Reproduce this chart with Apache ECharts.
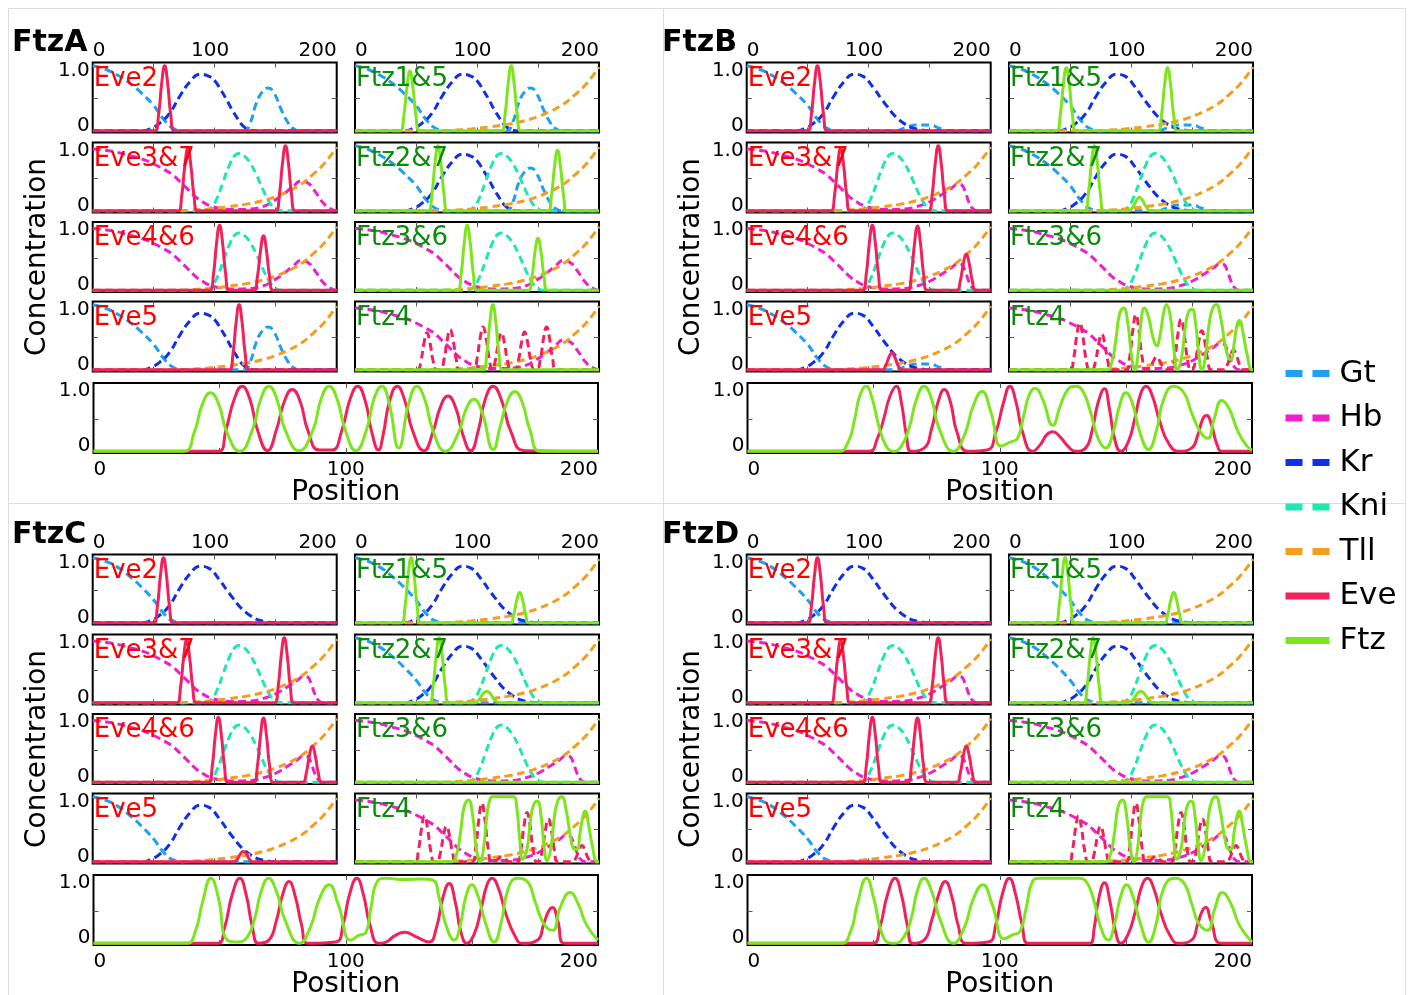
<!DOCTYPE html>
<html>
<head>
<meta charset="utf-8">
<title>Eve and Ftz stripe enhancers</title>
<script src="https://cdn.jsdelivr.net/npm/echarts@6/dist/echarts.min.js"></script>
<style>
html, body { margin: 0; padding: 0; background: #fff; }
#chart { width: 1413px; height: 995px; }
</style>
</head>
<body>
<div id="chart"></div>
<script>
// ---------- axis ticks and labels ----------
const positionTicks = [50, 100, 150];
const positionLabels = [0, 100, 200];
const concTicks = [0.5];
const concLabels = [0, 1];

// ---------- gap gene inputs: [position, concentration] ----------
const gtFull = [[0,1.0],[10,0.95],[20,0.86],[30,0.74],[40,0.58],[50,0.39],[58,0.18],[66,0.04],[75,0],[124,0],[129,0.12],[134,0.42],[139,0.6],[144,0.66],[149,0.57],[154,0.35],[159,0.16],[164,0.04],[170,0],[200,0]];
const gtWeak = [[0,1.0],[10,0.95],[20,0.86],[30,0.74],[40,0.58],[50,0.39],[58,0.18],[66,0.04],[75,0],[122,0],[130,0.05],[140,0.09],[150,0.09],[158,0.04],[166,0],[200,0]];
const gtAnterior = [[0,1.0],[10,0.95],[20,0.86],[30,0.72],[40,0.55],[50,0.35],[58,0.15],[66,0.03],[74,0],[200,0]];
const krNarrow = [[0,0],[40,0],[48,0.04],[55,0.12],[63,0.27],[71,0.52],[80,0.76],[88,0.87],[95,0.84],[100,0.77],[105,0.63],[110,0.47],[114,0.33],[118,0.21],[122,0.1],[127,0.03],[135,0],[200,0]];
const krWide = [[0,0],[40,0],[48,0.04],[55,0.12],[63,0.27],[71,0.52],[80,0.76],[88,0.87],[95,0.84],[104,0.66],[110,0.5],[115,0.38],[120,0.26],[125,0.17],[130,0.1],[135,0.05],[142,0.02],[150,0],[200,0]];
const hbRound = [[0,0.95],[10,0.93],[20,0.9],[30,0.85],[40,0.8],[50,0.72],[58,0.64],[65,0.56],[72,0.44],[78,0.33],[84,0.22],[90,0.14],[96,0.08],[104,0.04],[115,0.02],[130,0.03],[140,0.07],[148,0.15],[156,0.25],[164,0.37],[171,0.46],[177,0.42],[183,0.28],[189,0.12],[195,0.03],[200,0]];
const hbSharp = [[0,0.95],[10,0.93],[20,0.9],[30,0.85],[40,0.8],[50,0.72],[58,0.64],[65,0.56],[72,0.44],[78,0.33],[84,0.22],[90,0.14],[96,0.08],[104,0.04],[115,0.02],[130,0.03],[140,0.07],[150,0.14],[160,0.25],[168,0.35],[173,0.41],[176,0.4],[179,0.3],[182,0.14],[185,0.04],[189,0],[200,0]];
const kni = [[0,0],[92,0],[97,0.05],[102,0.2],[107,0.45],[112,0.7],[117,0.86],[120,0.88],[124,0.85],[129,0.74],[134,0.56],[139,0.35],[144,0.16],[149,0.04],[155,0],[200,0]];
const tll = [[0,0],[70,0],[80,0.01],[95,0.03],[110,0.06],[125,0.1],[140,0.16],[150,0.22],[160,0.3],[170,0.4],[180,0.55],[190,0.73],[200,0.98]];

// ---------- FtzA enhancer outputs ----------
const aEve2 = [[0,0],[51,0],[54,0.25],[56.5,0.72],[59,1],[61.5,0.72],[64,0.25],[67,0],[200,0]];
const aEve37 = [[0,0],[70,0],[73,0.24],[75.5,0.69],[78,0.96],[80.5,0.69],[83,0.24],[86,0],[150,0],[153,0.25],[155.5,0.72],[158,1],[160.5,0.72],[163,0.25],[166,0],[200,0]];
const aEve46 = [[0,0],[96,0],[99,0.25],[101.5,0.72],[104,1],[106.5,0.72],[109,0.25],[112,0],[132,0],[135,0.21],[137.5,0.6],[140,0.84],[142.5,0.6],[145,0.21],[148,0],[200,0]];
const aEve5 = [[0,0],[112,0],[115,0.25],[117.5,0.72],[120,1],[122.5,0.72],[125,0.25],[128,0],[200,0]];
const aFtz15 = [[0,0],[37,0],[40,0.23],[42.5,0.66],[45,0.92],[47.5,0.66],[50,0.23],[53,0],[120,0],[123,0.25],[125.5,0.72],[128,1],[130.5,0.72],[133,0.25],[136,0],[200,0]];
const aFtz27 = [[0,0],[60,0],[63,0.25],[65.5,0.72],[68,1],[70.5,0.72],[73,0.25],[76,0],[158,0],[161,0.23],[163.5,0.67],[166,0.93],[168.5,0.67],[171,0.23],[174,0],[200,0]];
const aFtz36 = [[0,0],[84,0],[87,0.25],[89.5,0.72],[92,1],[94.5,0.72],[97,0.25],[100,0],[142,0],[145,0.2],[147.5,0.58],[150,0.8],[152.5,0.58],[155,0.2],[158,0],[200,0]];
const aFtz4 = [[0,0],[105,0],[108,0.25],[110.5,0.72],[113,1],[115.5,0.72],[118,0.25],[121,0],[200,0]];
const aEveInput = [[0,0],[51,0],[54,0.14],[56.5,0.41],[59,0.57],[61.5,0.41],[64,0.14],[67,0],[70,0],[73,0.16],[75.5,0.45],[78,0.62],[80.5,0.45],[83,0.16],[86,0],[97,0],[100,0.17],[102.5,0.48],[105,0.66],[107.5,0.48],[110,0.17],[112.5,0],[115,0.14],[117.5,0.41],[120,0.57],[122.5,0.41],[125,0.14],[128,0],[131,0],[134,0.15],[136.5,0.42],[139,0.58],[141.5,0.42],[144,0.15],[147,0],[149,0],[152,0.17],[154.5,0.48],[157,0.66],[159.5,0.48],[162,0.17],[165,0],[200,0]];
const aBandEve = [[0,0],[49.5,0],[52.5,0.33],[55.8,0.8],[58.9,1.0],[62,0.8],[65,0.33],[69,0.01],[72.5,0.33],[75.7,0.77],[78.8,0.95],[81.9,0.77],[85,0.32],[89.5,0.02],[94.5,0.02],[98.5,0.33],[101.7,0.8],[104.7,1.0],[107.7,0.78],[110.3,0.3],[113,0.02],[114.8,0.25],[117.4,0.78],[120.4,1.0],[123.4,0.78],[126.4,0.33],[131,0.01],[134.6,0.3],[137.5,0.68],[140.5,0.85],[143.5,0.68],[146.4,0.26],[149.5,0.01],[152.6,0.33],[155.3,0.8],[158.4,1.0],[161.8,0.78],[165.5,0.3],[171,0.01],[200,0]];
const aBandFtz = [[0,0],[35.5,0],[40,0.3],[43.2,0.73],[46.4,0.9],[49.6,0.73],[53,0.28],[58,0],[63,0.33],[66.3,0.8],[69.5,1.0],[72.7,0.8],[76,0.33],[81.5,0.01],[87,0.33],[90.2,0.8],[93.4,1.0],[96.6,0.8],[99.8,0.33],[104,0.01],[108.2,0.33],[111.3,0.82],[114.3,1.0],[117.2,0.74],[121,0.05],[125,0.74],[128.2,1.0],[131.3,0.8],[134.5,0.33],[139.5,0],[144.6,0.28],[147.7,0.65],[150.8,0.8],[153.8,0.63],[158.5,0.03],[161.2,0.38],[164.1,0.77],[167,0.92],[170,0.75],[173,0.33],[177.5,0],[200,0]];

// ---------- FtzB / FtzC / FtzD enhancer outputs ----------
const eve2Late = [[0,0],[50,0],[53,0.25],[55.5,0.72],[58,1],[60.5,0.72],[63,0.25],[66,0],[200,0]];
const eve37Late = [[0,0],[69,0],[72,0.24],[74.5,0.69],[77,0.96],[79.5,0.69],[82,0.24],[85,0],[149,0],[152,0.25],[154.5,0.72],[157,1],[159.5,0.72],[162,0.25],[165,0],[200,0]];
const eve46Late = [[0,0],[95,0],[98,0.25],[100.5,0.72],[103,1],[105.5,0.72],[108,0.25],[111,0],[132,0],[135,0.25],[137.5,0.71],[140,0.99],[142.5,0.71],[145,0.25],[148,0],[172,0],[175,0.14],[177.5,0.4],[180,0.56],[182.5,0.4],[185,0.14],[188,0],[200,0]];
const bEve5 = [[0,0],[111,0],[114,0.07],[116.5,0.19],[119,0.26],[121.5,0.19],[124,0.07],[127,0],[200,0]];
const cEve5 = [[0,0],[115.5,0],[118.5,0.04],[121,0.12],[123.5,0.16],[126,0.12],[128.5,0.04],[131.5,0],[200,0]];
const flatZero = [[0,0],[200,0]];
const bFtz15 = [[0,0],[39,0],[42,0.24],[44.5,0.7],[47,0.97],[49.5,0.7],[52,0.24],[55,0],[122,0],[125,0.24],[127.5,0.7],[130,0.97],[132.5,0.7],[135,0.24],[138,0],[200,0]];
const bFtz27 = [[0,0],[62,0],[65,0.25],[67.5,0.72],[70,1],[72.5,0.72],[75,0.25],[78,0],[98,0],[101.5,0.06],[104.5,0.16],[107,0.21],[109.5,0.16],[112.5,0.06],[116,0],[200,0]];
const bFtz4 = [[0,0],[80,0],[84,0.1],[87.5,0.45],[90.5,0.85],[94,0.95],[97.5,0.7],[100.5,0.2],[103,0],[105.5,0.2],[108,0.7],[111,0.95],[114.5,0.8],[118,0.5],[121,0.37],[124,0.55],[126.5,0.85],[129,1.0],[132,0.85],[135,0.35],[138,0],[141.5,0.2],[144.5,0.65],[147,0.88],[150,0.93],[153,0.7],[155.5,0.25],[158,0],[161,0.2],[164,0.7],[167,0.95],[170,1.0],[173.5,0.8],[177,0.4],[180,0.18],[182,0.16],[184.5,0.4],[187,0.7],[189,0.76],[191.5,0.6],[195,0.25],[199,0],[200,0]];
const bEveInput = [[0,0],[50,0],[53,0.18],[55.5,0.52],[58,0.72],[60.5,0.52],[63,0.18],[66,0],[68,0],[71,0.14],[73.5,0.4],[76,0.55],[78.5,0.4],[81,0.14],[84,0],[96,0],[99,0.21],[101.5,0.61],[104,0.85],[106.5,0.61],[109,0.21],[112,0],[113,0],[116,0.05],[118.5,0.14],[121,0.2],[123.5,0.14],[126,0.05],[129,0],[133,0],[136,0.2],[138.5,0.56],[141,0.78],[143.5,0.56],[146,0.2],[149,0],[150,0],[153,0.15],[155.5,0.43],[158,0.6],[160.5,0.43],[163,0.15],[166,0],[176,0],[179,0.08],[181.5,0.22],[184,0.3],[186.5,0.22],[189,0.08],[192,0],[200,0]];
const cFtz15 = [[0,0],[38,0],[41,0.25],[43.5,0.72],[46,1],[48.5,0.72],[51,0.25],[54,0],[127,0],[130,0.12],[132.5,0.34],[135,0.47],[137.5,0.34],[140,0.12],[143,0],[200,0]];
const cFtz27 = [[0,0],[61,0],[64,0.25],[66.5,0.72],[69,1],[71.5,0.72],[74,0.25],[77,0],[98,0],[102,0.06],[105,0.14],[108,0.18],[111,0.14],[114.5,0.05],[119,0],[200,0]];
const ftz4Broad = [[0,0],[79,0],[83,0.1],[86.5,0.45],[89.5,0.85],[93,0.95],[96.5,0.7],[99.5,0.2],[102.5,0],[105,0.15],[107.5,0.6],[110,0.92],[113,1.0],[122,1.0],[130,1.0],[132.5,0.85],[135,0.35],[137.5,0.04],[141,0.2],[144,0.65],[146.5,0.88],[149.5,0.93],[152.5,0.7],[155,0.25],[157.5,0.02],[160.5,0.2],[163.5,0.7],[166.5,0.95],[169.5,1.0],[173,0.8],[176.5,0.4],[179.5,0.2],[182,0.19],[184.5,0.45],[187,0.72],[188.8,0.78],[191,0.62],[194.5,0.25],[198.5,0],[200,0]];
const cEveInput = [[0,0],[49,0],[52,0.18],[54.5,0.51],[57,0.71],[59.5,0.51],[62,0.18],[65,0],[67,0],[70,0.14],[72.5,0.4],[75,0.55],[77.5,0.4],[80,0.14],[83,0],[96,0],[99,0.23],[101.5,0.65],[104,0.9],[106.5,0.65],[109,0.23],[112,0],[114,0],[117,0.04],[120,0.08],[123,0.04],[126,0],[133,0],[136,0.19],[138.5,0.55],[141,0.76],[143.5,0.55],[146,0.19],[149,0],[150.5,0],[153.5,0.17],[156,0.48],[158.5,0.66],[161,0.48],[163.5,0.17],[166.5,0],[178,0],[181,0.06],[183.5,0.18],[186,0.25],[188.5,0.18],[191,0.06],[194,0],[200,0]];

const bBandEve = [[0,0],[48,0],[51.5,0.2],[54,0.5],[56.5,0.85],[59,1.0],[61,0.75],[63,0.25],[65,0],[70,0.05],[73,0.35],[75.5,0.75],[78,0.95],[80.5,0.75],[83,0.3],[87.4,0],[95,0.02],[98.5,0.3],[101.5,0.75],[104,1.0],[106.5,0.75],[109,0.3],[113,0],[116,0.1],[118.5,0.25],[121,0.3],[124,0.22],[127,0.08],[130,0],[134,0.05],[136.5,0.3],[139,0.75],[141.5,0.96],[143.5,0.65],[145.5,0.2],[148,0],[151,0.15],[153.5,0.5],[156,0.9],[158,1.0],[160.5,0.85],[163.5,0.45],[167,0.12],[171,0],[176,0.05],[178.5,0.25],[180.5,0.5],[182,0.55],[184,0.4],[186,0.12],[188.3,0],[200,0]];
const bBandFtz = [[0,0],[36,0],[40,0.15],[42.5,0.5],[44.5,0.85],[47,1.0],[49.5,0.8],[52,0.4],[55,0.08],[58,0],[61,0.08],[64,0.35],[67,0.8],[70,1.0],[73,0.8],[76,0.35],[81.6,0],[86,0.25],[89.5,0.7],[93,0.92],[96.5,0.6],[100.6,0.08],[104,0.14],[107,0.2],[109.5,0.55],[111.5,0.85],[114,0.97],[117,0.8],[121,0.4],[124,0.7],[127,0.95],[130,1.0],[133,0.92],[136,0.6],[139,0.2],[142,0.05],[145,0.3],[147.5,0.7],[150,0.9],[152.5,0.75],[155.5,0.3],[159,0.03],[162,0.3],[165,0.8],[169,1.0],[173,0.9],[176,0.6],[179.5,0.3],[182.5,0.2],[185,0.5],[188,0.78],[191,0.65],[194.5,0.3],[198,0.08],[200,0.02]];
const cBandEve = [[0,0],[49,0],[52,0.25],[55,0.75],[58,1.0],[60.5,0.75],[63,0.25],[65.4,0],[69.5,0.05],[72.5,0.35],[75,0.75],[77.5,0.95],[80,0.72],[82.5,0.28],[85,0],[96,0.02],[99,0.3],[101.5,0.75],[104.4,1.0],[107,0.75],[109.5,0.3],[113,0],[116,0.02],[119.5,0.12],[123.5,0.17],[128,0.1],[133,0.02],[136,0.25],[138.5,0.7],[141,0.92],[143.5,0.62],[145.5,0.2],[148,0],[151,0.15],[153.5,0.5],[156,0.9],[158,1.0],[160.5,0.85],[163.5,0.45],[167,0.12],[170,0],[176,0.05],[178.5,0.3],[180.5,0.5],[182,0.55],[184,0.35],[186.8,0],[200,0]];
const cBandFtz = [[0,0],[36.8,0],[40.5,0.2],[43,0.6],[46.6,1.0],[49.5,0.7],[53,0.05],[57,0.02],[61,0.1],[64,0.4],[66.5,0.8],[69.4,1.0],[72.5,0.8],[76,0.35],[81.6,0],[86,0.25],[89.5,0.68],[93.4,0.9],[97,0.6],[102,0.05],[105,0.12],[108,0.17],[110,0.55],[112.5,0.95],[116,1.0],[123,0.98],[130,0.99],[134.6,0.97],[137,0.7],[140,0.25],[143,0.05],[145.5,0.3],[147.5,0.7],[150,0.9],[152.5,0.72],[155.5,0.3],[158.8,0.02],[161.5,0.3],[164.5,0.85],[168,1.0],[172,0.95],[175,0.65],[178.5,0.3],[182,0.2],[185,0.55],[189,0.78],[192,0.62],[195.5,0.28],[200,0.05]];
const dBandEve = [[0,0],[49.4,0],[52.5,0.25],[55.5,0.75],[58.5,1.0],[61,0.75],[63.5,0.25],[65.5,0],[70,0.05],[73,0.35],[75.8,0.75],[78.4,0.95],[81,0.72],[83.5,0.28],[86.7,0],[95.5,0.02],[98.5,0.3],[101,0.75],[103.8,1.0],[106.3,0.75],[108.8,0.3],[111.5,0],[135.7,0],[137.5,0.25],[139.2,0.68],[141.5,0.93],[143.8,0.62],[145.8,0.2],[148,0],[151,0.15],[153.8,0.5],[156.5,0.9],[158.6,1.0],[161,0.85],[164,0.45],[167.5,0.12],[170.8,0],[176,0.05],[178.5,0.3],[180.3,0.5],[181.7,0.55],[183.7,0.35],[188,0],[200,0]];
const dBandFtz = [[0,0],[37,0],[41,0.2],[43.5,0.6],[47.2,1.0],[50,0.7],[54,0.08],[58.2,0],[62,0.1],[65,0.4],[67.3,0.8],[70,1.0],[73,0.8],[76.5,0.35],[81.6,0],[86,0.25],[89.5,0.68],[93.3,0.9],[97,0.6],[101.8,0.07],[105,0.13],[108,0.18],[110.5,0.55],[113,0.95],[116,1.0],[124,1.0],[131,1.0],[134,0.96],[137,0.7],[140,0.25],[143,0.05],[145.5,0.3],[147.8,0.7],[150.3,0.9],[152.8,0.72],[155.8,0.3],[159,0.02],[162,0.3],[165,0.85],[169.3,1.0],[173,0.93],[176,0.62],[179,0.3],[182.5,0.2],[185,0.5],[188.3,0.78],[191.5,0.62],[195,0.28],[200,0.02]];

// ---------- styling and layout ----------
const FONT = 'DejaVu Sans';
const COLORS = { Gt: '#1fa0f0', Hb: '#ee20cc', Kr: '#0f30e8', Kni: '#1ee8b2', Tll: '#f59d1e', Eve: '#f0215b', Ftz: '#7ce51e' };
const LABEL_COLORS = { Eve: '#ff0000', Ftz: '#0b8a0b' };
const DASH = [8, 4.5];

const SUBPLOT_LABELS = ['Eve2', 'Eve3&7', 'Eve4&6', 'Eve5', 'Ftz1&5', 'Ftz2&7', 'Ftz3&6', 'Ftz4'];
const COL_LEFT = [92.7, 355];
const COL_W = 244;
const ROW_TOP = [62.5, 142.5, 222, 301.5];
const ROW_H = 70;
const BAND = { left: 93.5, top: 383, width: 504.5, height: 70 };

const panels = [
  { title: 'FtzA', dx: 0, dy: 0, titleLeft: 12,
    inputs: [
      [['Gt', gtFull], ['Kr', krNarrow]],
      [['Hb', hbRound], ['Kni', kni], ['Tll', tll]],
      [['Hb', hbRound], ['Kni', kni], ['Tll', tll]],
      [['Gt', gtFull], ['Kr', krNarrow], ['Tll', tll]],
      [['Gt', gtFull], ['Kr', krNarrow], ['Tll', tll]],
      [['Gt', gtFull], ['Kr', krNarrow], ['Kni', kni], ['Tll', tll]],
      [['Hb', hbRound], ['Kni', kni], ['Tll', tll]],
      [['Hb', hbRound], ['Tll', tll], ['Eve', aEveInput]]
    ],
    outputs: [aEve2, aEve37, aEve46, aEve5, aFtz15, aFtz27, aFtz36, aFtz4],
    bandEve: aBandEve, bandFtz: aBandFtz },
  { title: 'FtzB', dx: 654, dy: 0, titleLeft: 662,
    inputs: [
      [['Gt', gtWeak], ['Kr', krWide]],
      [['Hb', hbSharp], ['Kni', kni], ['Tll', tll]],
      [['Hb', hbSharp], ['Kni', kni], ['Tll', tll]],
      [['Gt', gtWeak], ['Kr', krWide], ['Tll', tll]],
      [['Gt', gtWeak], ['Kr', krWide], ['Tll', tll]],
      [['Gt', gtWeak], ['Kr', krWide], ['Kni', kni], ['Tll', tll]],
      [['Hb', hbSharp], ['Kni', kni], ['Tll', tll]],
      [['Hb', hbSharp], ['Tll', tll], ['Eve', bEveInput]]
    ],
    outputs: [eve2Late, eve37Late, eve46Late, bEve5, bFtz15, bFtz27, flatZero, bFtz4],
    bandEve: bBandEve, bandFtz: bBandFtz },
  { title: 'FtzC', dx: 0, dy: 492, titleLeft: 12,
    inputs: [
      [['Gt', gtAnterior], ['Kr', krWide]],
      [['Hb', hbSharp], ['Kni', kni], ['Tll', tll]],
      [['Hb', hbSharp], ['Kni', kni], ['Tll', tll]],
      [['Gt', gtAnterior], ['Kr', krWide], ['Tll', tll]],
      [['Gt', gtAnterior], ['Kr', krWide], ['Tll', tll]],
      [['Gt', gtAnterior], ['Kr', krWide], ['Kni', kni], ['Tll', tll]],
      [['Hb', hbSharp], ['Kni', kni], ['Tll', tll]],
      [['Hb', hbSharp], ['Tll', tll], ['Eve', cEveInput]]
    ],
    outputs: [eve2Late, eve37Late, eve46Late, cEve5, cFtz15, cFtz27, flatZero, ftz4Broad],
    bandEve: cBandEve, bandFtz: cBandFtz },
  { title: 'FtzD', dx: 654, dy: 492, titleLeft: 662,
    inputs: [
      [['Gt', gtAnterior], ['Kr', krWide]],
      [['Hb', hbSharp], ['Kni', kni], ['Tll', tll]],
      [['Hb', hbSharp], ['Kni', kni], ['Tll', tll]],
      [['Gt', gtAnterior], ['Kr', krWide], ['Tll', tll]],
      [['Gt', gtAnterior], ['Kr', krWide], ['Tll', tll]],
      [['Gt', gtAnterior], ['Kr', krWide], ['Kni', kni], ['Tll', tll]],
      [['Hb', hbSharp], ['Kni', kni], ['Tll', tll]],
      [['Hb', hbSharp], ['Tll', tll], ['Eve', cEveInput]]
    ],
    outputs: [eve2Late, eve37Late, eve46Late, flatZero, cFtz15, cFtz27, flatZero, ftz4Broad],
    bandEve: dBandEve, bandFtz: dBandFtz }
];

// ---------- option builders ----------
const grids = [], xAxes = [], yAxes = [], series = [], titles = [], graphics = [];
const labelFont = { fontFamily: FONT, fontSize: 20, color: '#000' };
const tickStyle = { show: true, inside: true, length: 5, lineStyle: { color: '#555', width: 1 } };

function positionLabelCfg(margin, nudgeMiddle) {
  const cfg = { show: true, customValues: positionLabels, margin: margin,
    alignMinLabel: 'left', alignMaxLabel: 'right', ...labelFont };
  if (nudgeMiddle) {
    cfg.formatter = v => (v === 100 ? '{mid|100}' : String(v));
    cfg.rich = { mid: { ...labelFont, padding: [0, 9, 0, 0] } };
  }
  return cfg;
}
function concLabelCfg() {
  return { show: true, customValues: concLabels, margin: 3,
    formatter: v => (v >= 1 ? '{hi|1.0}' : '{lo|0}'),
    rich: { hi: { ...labelFont, padding: [10, 0, 0, 0] }, lo: { ...labelFont, padding: [0, 0, 11, 0] } } };
}

function addGrid(rect, opts) {
  const g = grids.length;
  grids.push({ left: rect.left, top: rect.top, width: rect.width, height: rect.height,
    show: true, borderColor: '#000', borderWidth: 2, backgroundColor: 'transparent',
    containLabel: false, outerBoundsMode: 'none' });
  const xBase = { type: 'value', gridIndex: g, min: 0, max: 200,
    axisLine: { show: false, onZero: false }, splitLine: { show: false },
    axisTick: { ...tickStyle, customValues: positionTicks } };
  const bottom = { ...xBase, position: 'bottom',
    axisLabel: opts.bottomLabels ? positionLabelCfg(7, false) : { show: false } };
  if (opts.xName) {
    Object.assign(bottom, { name: opts.xName, nameLocation: 'middle', nameGap: 26, nameMoveOverlap: false,
      nameTextStyle: { fontFamily: FONT, fontSize: 28, color: '#000' } });
  }
  xAxes.push(bottom);
  xAxes.push({ ...xBase, position: 'top',
    axisLabel: opts.topLabels ? positionLabelCfg(2, true) : { show: false } });
  const yBase = { type: 'value', gridIndex: g, min: -0.025, max: 1.05,
    axisLine: { show: false, onZero: false }, splitLine: { show: false },
    axisTick: { ...tickStyle, customValues: concTicks } };
  yAxes.push({ ...yBase, position: 'left', axisLabel: opts.leftLabels ? concLabelCfg() : { show: false } });
  yAxes.push({ ...yBase, position: 'right', axisLabel: { show: false } });
  return g;
}

function addLine(g, name, data, dashed) {
  series.push({ type: 'line', name: name, data: data, xAxisIndex: 2 * g, yAxisIndex: 2 * g,
    symbol: 'none', smooth: 0.5, color: COLORS[name], silent: true, z: dashed ? 2 : 3,
    lineStyle: { color: COLORS[name], width: 3, type: dashed ? DASH : 'solid' },
    emphasis: { disabled: true } });
}

panels.forEach(p => {
  titles.push({ text: p.title, left: p.titleLeft, top: 28 + p.dy, padding: 0,
    textStyle: { fontFamily: FONT, fontSize: 30, fontWeight: 'bold', color: '#000' } });
  SUBPLOT_LABELS.forEach((label, i) => {
    const col = i < 4 ? 0 : 1;
    const row = i % 4;
    const rect = { left: COL_LEFT[col] + p.dx, top: ROW_TOP[row] + p.dy, width: COL_W, height: ROW_H };
    const g = addGrid(rect, { topLabels: row === 0, leftLabels: col === 0 });
    p.inputs[i].forEach(([gene, values]) => addLine(g, gene, values, true));
    const kind = label.slice(0, 3);
    addLine(g, kind, p.outputs[i], false);
    titles.push({ text: label, left: rect.left + 1, top: rect.top + 3.5, padding: 0,
      textStyle: { fontFamily: FONT, fontSize: 26, fontWeight: 'normal', color: LABEL_COLORS[kind] } });
  });
  const band = { left: BAND.left + p.dx, top: BAND.top + p.dy, width: BAND.width, height: BAND.height };
  const gb = addGrid(band, { bottomLabels: true, leftLabels: true, xName: 'Position' });
  addLine(gb, 'Eve', p.bandEve, false);
  addLine(gb, 'Ftz', p.bandFtz, false);
  graphics.push({ type: 'text', x: 38 + p.dx, y: 257 + p.dy, rotation: Math.PI / 2, silent: true,
    style: { text: 'Concentration', fontFamily: FONT, fontSize: 28, fill: '#000', align: 'center', verticalAlign: 'middle' } });
});

// thin frame separating the four panels
const frameStyle = { stroke: '#dddddd', lineWidth: 1 };
graphics.push({ type: 'rect', silent: true, shape: { x: 8.5, y: 8.5, width: 1397, height: 995 }, style: { ...frameStyle, fill: 'none' } });
graphics.push({ type: 'line', silent: true, shape: { x1: 663.5, y1: 8.5, x2: 663.5, y2: 995 }, style: frameStyle });
graphics.push({ type: 'line', silent: true, shape: { x1: 8.5, y1: 503.5, x2: 1405.5, y2: 503.5 }, style: frameStyle });

const dashedLegend = { type: [17, 10] };
const option = {
  animation: false,
  backgroundColor: '#fff',
  title: titles,
  grid: grids,
  xAxis: xAxes,
  yAxis: yAxes,
  series: series,
  graphic: graphics,
  legend: {
    orient: 'vertical', left: 1282, top: 358, padding: 0,
    itemWidth: 44, itemHeight: 10, itemGap: 13.5, selectedMode: false,
    textStyle: { fontFamily: FONT, fontSize: 31, color: '#000', padding: [0, 0, 0, 5] },
    itemStyle: { opacity: 0 },
    lineStyle: { width: 7 },
    data: [
      { name: 'Gt', lineStyle: dashedLegend },
      { name: 'Hb', lineStyle: dashedLegend },
      { name: 'Kr', lineStyle: dashedLegend },
      { name: 'Kni', lineStyle: dashedLegend },
      { name: 'Tll', lineStyle: dashedLegend },
      { name: 'Eve', lineStyle: { type: 'solid' } },
      { name: 'Ftz', lineStyle: { type: 'solid' } }
    ]
  }
};

const chart = echarts.init(document.getElementById('chart'), null, { renderer: 'canvas' });
chart.setOption(option);
</script>
</body>
</html>
